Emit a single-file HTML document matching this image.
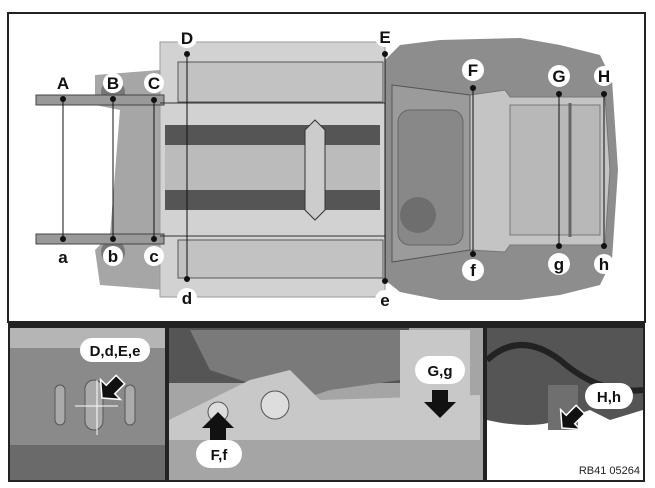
<!DOCTYPE html>
<html><head><style>
html,body{margin:0;padding:0;background:#fff;width:655px;height:488px;overflow:hidden}
svg{display:block}
text{font-family:"Liberation Sans",Arial,sans-serif;font-weight:bold}
</style></head><body>
<svg width="655" height="488" viewBox="0 0 655 488">
<rect x="0" y="0" width="655" height="488" fill="#fff"/>
<rect x="8" y="13" width="637" height="309" fill="#fff" stroke="#222" stroke-width="2"/>
<path d="M385,60 L400,45 L440,40 L520,38 L560,45 L600,55 L612,80 L618,170 L612,260 L600,285 L560,295 L520,300 L440,300 L400,292 L385,280 Z" fill="#8d8d8d"/>
<path d="M470,95 L505,90 L510,97 L605,97 L610,170 L605,245 L510,245 L505,252 L470,250 Z" fill="#c4c4c4" stroke="#777"/>
<rect x="510" y="105" width="90" height="130" fill="#b8b8b8" stroke="#777"/>
<line x1="570" y1="103" x2="570" y2="237" stroke="#666" stroke-width="3"/>
<path d="M392,85 L470,95 L470,250 L392,262 Z" fill="#9b9b9b" stroke="#555"/>
<rect x="398" y="110" width="65" height="135" rx="12" fill="#888" stroke="#666"/>
<circle cx="418" cy="215" r="18" fill="#6e6e6e"/>
<path d="M95,75 L160,70 L165,130 L160,210 L165,290 L100,285 L95,250 L110,235 L120,110 L95,105 Z" fill="#a6a6a6"/>
<circle cx="113" cy="92" r="12" fill="#777"/><circle cx="113" cy="252" r="12" fill="#777"/>
<rect x="160" y="42" width="225" height="255" fill="#d2d2d2" stroke="#999"/>
<rect x="178" y="62" width="205" height="40" fill="#c2c2c2" stroke="#555"/>
<rect x="178" y="240" width="205" height="38" fill="#c2c2c2" stroke="#555"/>
<rect x="165" y="125" width="215" height="20" fill="#555"/>
<rect x="165" y="190" width="215" height="20" fill="#555"/>
<rect x="165" y="145" width="215" height="45" fill="#bbb"/>
<path d="M305,130 L315,120 L325,130 L325,210 L315,220 L305,210 Z" fill="#ccc" stroke="#333"/>
<rect x="36" y="95" width="128" height="10" fill="#999" stroke="#444"/>
<rect x="36" y="234" width="128" height="10" fill="#999" stroke="#444"/>
<line x1="160" y1="103" x2="385" y2="103" stroke="#333"/>
<line x1="160" y1="236" x2="385" y2="236" stroke="#333"/>
<g stroke="#111" stroke-width="1">
<line x1="63" y1="99" x2="63" y2="239"/><line x1="113" y1="99" x2="113" y2="239"/><line x1="154" y1="100" x2="154" y2="239"/>
<line x1="187" y1="54" x2="187" y2="279"/><line x1="385" y1="54" x2="385" y2="281"/>
<line x1="473" y1="88" x2="473" y2="254"/><line x1="559" y1="94" x2="559" y2="246"/><line x1="604" y1="94" x2="604" y2="246"/>
</g>
<g fill="#111">
<circle cx="63" cy="99" r="3"/><circle cx="113" cy="99" r="3"/><circle cx="154" cy="100" r="3"/>
<circle cx="63" cy="239" r="3"/><circle cx="113" cy="239" r="3"/><circle cx="154" cy="239" r="3"/>
<circle cx="187" cy="54" r="3"/><circle cx="187" cy="279" r="3"/><circle cx="385" cy="54" r="3"/><circle cx="385" cy="281" r="3"/>
<circle cx="473" cy="88" r="3"/><circle cx="473" cy="254" r="3"/><circle cx="559" cy="94" r="3"/><circle cx="559" cy="246" r="3"/>
<circle cx="604" cy="94" r="3"/><circle cx="604" cy="246" r="3"/>
</g>
<g fill="#fff">
<circle cx="113" cy="83" r="10"/><circle cx="154" cy="83" r="10"/><circle cx="113" cy="256" r="10"/><circle cx="154" cy="256" r="10"/>
<circle cx="187" cy="38" r="10"/><circle cx="187" cy="298" r="10"/><circle cx="385" cy="37" r="10"/><circle cx="385" cy="300" r="10"/>
<circle cx="473" cy="70" r="11"/><circle cx="473" cy="270" r="11"/><circle cx="559" cy="76" r="11"/><circle cx="559" cy="264" r="11"/>
<circle cx="604" cy="76" r="10"/><circle cx="604" cy="264" r="10"/>
</g>
<g font-size="17" text-anchor="middle" fill="#111">
<text x="63" y="89">A</text><text x="113" y="89">B</text><text x="154" y="89">C</text>
<text x="63" y="263">a</text><text x="113" y="262">b</text><text x="154" y="262">c</text>
<text x="187" y="44">D</text><text x="187" y="304">d</text><text x="385" y="43">E</text><text x="385" y="306">e</text>
<text x="473" y="76">F</text><text x="473" y="276">f</text><text x="559" y="82">G</text><text x="559" y="270">g</text>
<text x="604" y="82">H</text><text x="604" y="270">h</text>
</g>
<rect x="8" y="322" width="637" height="160" fill="#222"/>
<rect x="10" y="328" width="155" height="152" fill="#8a8a8a"/>
<rect x="10" y="328" width="155" height="20" fill="#b5b5b5"/>
<rect x="10" y="445" width="155" height="35" fill="#6a6a6a"/>
<rect x="55" y="385" width="10" height="40" rx="5" fill="#aaa" stroke="#555"/>
<rect x="85" y="380" width="18" height="50" rx="9" fill="#aaa" stroke="#555"/>
<rect x="125" y="385" width="10" height="40" rx="5" fill="#aaa" stroke="#555"/>
<line x1="75" y1="406" x2="118" y2="406" stroke="#fff"/><line x1="97" y1="380" x2="97" y2="435" stroke="#fff"/>
<g transform="translate(102,398) rotate(45)"><polygon points="-6,-26 6,-26 6,-12 14,-12 0,0 -14,-12 -6,-12" fill="#111" stroke="#fff" stroke-width="1.5"/></g>
<rect x="80" y="338" width="70" height="24" rx="12" fill="#fff"/>
<text x="115" y="356" font-size="15" text-anchor="middle" fill="#111">D,d,E,e</text>
<rect x="169" y="328" width="314" height="152" fill="#a5a5a5"/>
<rect x="169" y="328" width="240" height="55" fill="#555"/>
<path d="M190,330 L400,330 L400,380 L330,390 L300,400 L210,370 Z" fill="#7a7a7a"/>
<path d="M250,380 L290,370 L320,400 L480,395 L480,440 L169,440 L169,420 Z" fill="#c8c8c8"/>
<rect x="400" y="330" width="70" height="80" fill="#c8c8c8"/>
<circle cx="218" cy="412" r="10" fill="#ddd" stroke="#555"/>
<circle cx="275" cy="405" r="14" fill="#ddd" stroke="#555"/>
<polygon points="210,440 210,428 202,428 218,412 234,428 226,428 226,440" fill="#111"/>
<polygon points="432,390 432,402 424,402 440,418 456,402 448,402 448,390" fill="#111"/>
<rect x="196" y="440" width="46" height="28" rx="14" fill="#fff"/>
<text x="219" y="460" font-size="15" text-anchor="middle" fill="#111">F,f</text>
<rect x="415" y="356" width="50" height="28" rx="14" fill="#fff"/>
<text x="440" y="376" font-size="15" text-anchor="middle" fill="#111">G,g</text>
<rect x="487" y="328" width="156" height="152" fill="#555"/>
<path d="M487,420 Q530,430 560,420 L590,410 L610,420 L643,410 L643,480 L487,480 Z" fill="#fff"/>
<path d="M487,360 Q520,330 560,360 Q600,395 643,390" stroke="#222" stroke-width="6" fill="none"/>
<rect x="548" y="385" width="30" height="45" fill="#6f6f6f"/>
<g transform="translate(562,428) rotate(45)"><polygon points="-6,-26 6,-26 6,-12 14,-12 0,0 -14,-12 -6,-12" fill="#111" stroke="#fff" stroke-width="1.5"/></g>
<rect x="585" y="383" width="48" height="26" rx="13" fill="#fff"/>
<text x="609" y="402" font-size="15" text-anchor="middle" fill="#111">H,h</text>
<text x="640" y="474" font-size="11" text-anchor="end" fill="#222" style="font-weight:normal">RB41 05264</text>
</svg>
</body></html>
